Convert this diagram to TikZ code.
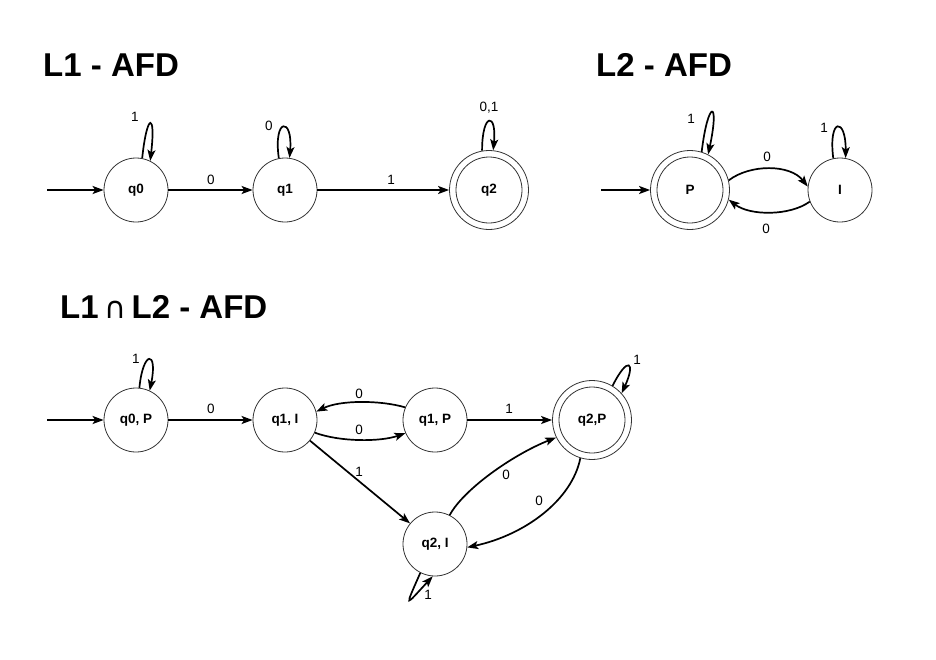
\documentclass[tikz,border=0pt]{standalone}
\usepackage{fontspec}
\setmainfont{Liberation Sans}
\newfontfamily\symfont{DejaVu Sans}
\usetikzlibrary{arrows.meta}
\tikzset{
  st/.style={circle,draw=black!80,line width=0.8pt,minimum size=64pt,inner sep=0pt,font=\bfseries\fontsize{13.5}{16}\selectfont},
  acc/.style={st,minimum size=79pt},
  edge/.style={line width=1.7pt,-{Stealth[length=11pt,width=8pt,inset=2.5pt]}},
  lbl/.style={font=\fontsize{13.5}{16}\selectfont,inner sep=0pt},
  ttl/.style={font=\bfseries\fontsize{33}{38}\selectfont,anchor=base west,inner sep=0pt}
}
\begin{document}
\begin{tikzpicture}[x=1pt,y=-1pt]
\useasboundingbox (0,0) rectangle (936,659);
% titles
\node[ttl] (t1) at (43,76) {L1 - AFD};
\node[ttl] (t2) at (596,76) {L2 - AFD};
\node[ttl] (t3) at (60,318) {L1\,{\symfont\mdseries\fontsize{30}{34}\selectfont ∩}\,L2 - AFD};
% ---------- L1 ----------
\node[st] (a0) at (136,190) {q0};
\node[st] (a1) at (285,190) {q1};
\node[acc] (a2) at (489,190) {q2};
\draw[line width=0.8pt,black!80] (a2.center) circle[radius=33pt];
\coordinate (s1) at (47,190);
\draw[edge] (s1) -- (a0);
\draw[edge] (a0) -- (a1);
\draw[edge] (a1) -- (a2);
\node[lbl] (l01) at (211,180) {0};
\node[lbl] (l12) at (391,180) {1};
\draw[edge] (a0.79) .. controls (147,112) and (156,112) .. (a0.64);
\node[lbl] (l00) at (135,117) {1};
\draw[edge] (a1.101) .. controls (273,117) and (293,117) .. (a1.82);
\node[lbl] (l11) at (269,126) {0};
\draw[edge] (a2.100) .. controls (482,112) and (497,112) .. (a2.84);
\node[lbl] (l22) at (489,108) {0,1};
% ---------- L2 ----------
\node[acc] (p) at (690,190) {P};
\draw[line width=0.8pt,black!80] (p.center) circle[radius=33pt];
\node[st] (i) at (840,190) {I};
\coordinate (s2) at (601,190);
\draw[edge] (s2) -- (p);
\draw[edge] (p.14) .. controls (750,164) and (790,164) .. (i.174);
\node[lbl] (lpi) at (767,157) {0};
\draw[edge] (i.201) .. controls (790,216) and (750,216) .. (p.346);
\node[lbl] (lip) at (766,229) {0};
\draw[edge] (p.73) .. controls (708,99) and (720,99) .. (p.63);
\node[lbl] (lpp) at (691,119) {1};
\draw[edge] (i.102) .. controls (828,117) and (846,117) .. (i.80);
\node[lbl] (lii) at (824,128) {1};
% ---------- L1 ∩ L2 ----------
\node[st] (b0P) at (136,420) {q0, P};
\node[st] (b1I) at (285,420) {q1, I};
\node[st] (b1P) at (435,420) {q1, P};
\node[acc] (b2P) at (592,420) {q2,P};
\draw[line width=0.8pt,black!80] (b2P.center) circle[radius=33pt];
\node[st] (b2I) at (435,544) {q2, I};
\coordinate (s3) at (47,420);
\draw[edge] (s3) -- (b0P);
\draw[edge] (b0P) -- (b1I);
\node[lbl] (m01) at (211,409) {0};
\draw[edge] (b1P.157) .. controls (380,400) and (340,400) .. (b1I.15);
\node[lbl] (m21) at (359,394) {0};
\draw[edge] (b1I.337) .. controls (340,442) and (380,442) .. (b1P.204);
\node[lbl] (m12) at (359,430) {0};
\draw[edge] (b1P) -- (b2P);
\node[lbl] (m23) at (509,409) {1};
\draw[edge] (b1I) -- (b2I);
\node[lbl] (m14) at (359,472) {1};
\draw[edge] (b2I.63) .. controls (463,490) and (512,455) .. (b2P.206);
\node[lbl] (m43) at (506,475) {0};
\draw[edge] (b2P.253) .. controls (572,500) and (525,535) .. (b2I.354);
\node[lbl] (m34) at (539,501) {0};
\draw[edge] (b0P.84) .. controls (143,350) and (158,350) .. (b0P.65);
\node[lbl] (m00) at (136,359) {1};
\draw[edge] (b2P.59) .. controls (628,355) and (636,362) .. (b2P.42);
\node[lbl] (m33) at (637,360) {1};
\draw[edge] (b2I.243) .. controls (404,610) and (405,606) .. (b2I.266);
\node[lbl] (m44) at (428,595) {1};
\end{tikzpicture}
\end{document}
